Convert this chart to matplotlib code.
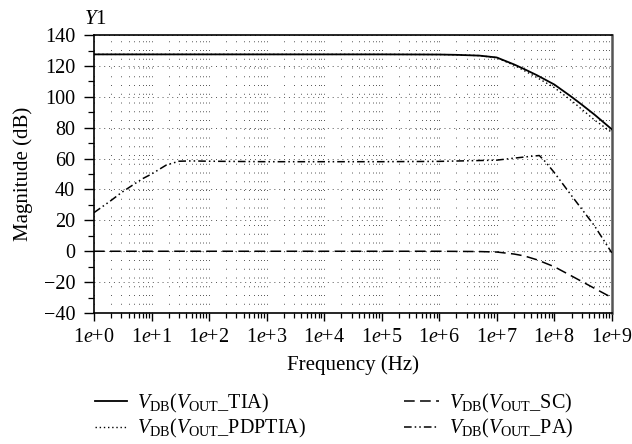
import matplotlib
matplotlib.use("Agg")
import matplotlib.pyplot as plt
from matplotlib.ticker import LogLocator, MultipleLocator, FixedLocator, FixedFormatter, NullFormatter

plt.rcParams['font.family'] = ['Liberation Serif', 'DejaVu Serif']
plt.rcParams['mathtext.fontset'] = 'custom'
plt.rcParams['mathtext.rm'] = 'Liberation Serif'
plt.rcParams['mathtext.it'] = 'Liberation Serif:italic'
plt.rcParams['mathtext.bf'] = 'Liberation Serif:bold'

# ---- data ----
f_tia = [1, 1e1, 1e2, 1e3, 1e4, 1e5, 1e6, 2e6, 5e6, 1e7, 2e7, 3e7, 5e7, 1e8, 2e8, 3e8, 5e8, 1e9]
v_tia = [127.5, 127.5, 127.5, 127.5, 127.5, 127.5, 127.4, 127.2, 126.7, 125.5, 121.0, 118.0, 114.0, 108.0, 100.0, 95.0, 88.5, 79.0]

f_pdp = [1, 1e1, 1e2, 1e3, 1e4, 1e5, 1e6, 2e6, 5e6, 1e7, 2e7, 3e7, 5e7, 1e8, 2e8, 3e8, 5e8, 1e9]
v_pdp = [127.5, 127.5, 127.5, 127.5, 127.5, 127.5, 127.4, 127.2, 126.7, 125.3, 120.5, 117.0, 112.5, 106.0, 97.5, 92.0, 85.0, 77.0]

f_sc = [1, 1e1, 1e2, 1e3, 1e4, 1e5, 1e6, 5e6, 1e7, 2e7, 3e7, 5e7, 1e8, 2e8, 5e8, 1e9]
v_sc = [0.0, 0.0, 0.0, 0.0, 0.0, 0.0, 0.0, -0.2, -0.5, -1.8, -3.0, -5.5, -10.0, -16.0, -24.0, -30.0]

f_pa = [1, 2, 3, 5, 7, 10, 18, 30, 50, 100, 1e3, 1e4, 1e5, 1e6, 1e7, 2e7, 4e7, 5.5e7, 7e7, 1e8, 2e8, 5e8, 1e9]
v_pa = [25.0, 33.0, 38.0, 43.5, 47.0, 50.0, 55.8, 58.3, 58.5, 58.3, 58.0, 58.0, 58.0, 58.2, 59.0, 60.3, 61.5, 62.0, 58.0, 51.0, 36.0, 16.5, -1.0]

labels = [r'$V_{\mathrm{DB}}(V_{\mathrm{OUT}}\_\mathrm{TIA})$',
          r'$V_{\mathrm{DB}}(V_{\mathrm{OUT}}\_\mathrm{PDPTIA})$',
          r'$V_{\mathrm{DB}}(V_{\mathrm{OUT}}\_\mathrm{SC})$',
          r'$V_{\mathrm{DB}}(V_{\mathrm{OUT}}\_\mathrm{PA})$']

xtick_vals = [1e0, 1e1, 1e2, 1e3, 1e4, 1e5, 1e6, 1e7, 1e8, 1e9]
xtick_labels = [r'1$e$+%d' % i for i in range(10)]
yticks = [-40, -20, 0, 20, 40, 60, 80, 100, 120, 140]

FS = 15
TFS = 14.5
LFS = 14.5

fig = plt.figure(figsize=(6.32, 4.44), dpi=100)
ax = fig.add_axes([0.1487, 0.295, 0.8193, 0.626])

l1, = ax.plot(f_tia, v_tia, color='black', lw=1.3, ls='-', zorder=4)
l2, = ax.plot(f_pdp, v_pdp, color='black', lw=1.0, ls=(0, (1, 2)), zorder=4)
l3, = ax.plot(f_sc, v_sc, color='black', lw=1.1, ls=(0, (7, 3.5)), zorder=4)
l4, = ax.plot(f_pa, v_pa, color='black', lw=1.1, ls=(0, (5, 2, 1, 2, 1, 2)), zorder=4)

ax.set_xscale('log')
ax.set_xlim(1, 1e9)
ax.set_ylim(-40, 140)
ax.xaxis.set_major_locator(FixedLocator(xtick_vals))
ax.xaxis.set_major_formatter(FixedFormatter(xtick_labels))
ax.xaxis.set_minor_locator(LogLocator(base=10, subs=range(2, 10), numticks=100))
ax.xaxis.set_minor_formatter(NullFormatter())
ax.set_yticks(yticks)
ax.yaxis.set_minor_locator(MultipleLocator(10))

# grid: sparse dotted verticals at every log tick, dotted horizontals at major y
ax.xaxis.grid(True, which='both', color='#555555', ls=(0, (1, 8)), lw=0.7)
ax.yaxis.grid(True, which='major', color='#555555', ls=(0, (1, 4)), lw=0.7)

ax.tick_params(axis='y', which='major', direction='out', length=7.5, width=1, labelsize=TFS, pad=6)
ax.tick_params(axis='y', which='minor', direction='out', length=4, width=0.9)
ax.tick_params(axis='x', which='major', direction='out', length=6, width=1, labelsize=TFS, pad=5)
ax.tick_params(axis='x', which='minor', direction='out', length=3.5, width=0.9)
for s in ax.spines.values():
    s.set_linewidth(1.2)
ax.spines['right'].set_color('#555555')
ax.spines['right'].set_linewidth(1.8)

ax.set_xlabel('Frequency (Hz)', fontsize=FS, labelpad=6)
ax.set_ylabel('Magnitude (dB)', fontsize=FS, labelpad=8)
fig.text(95 / 632, 1 - 19 / 444, r'$Y$1', fontsize=FS, ha='center', va='center')

leg_top = 1 - 392 / 444
leg1 = fig.legend([l1, l2], labels[:2], loc='upper left', bbox_to_anchor=(95 / 632, leg_top),
                  frameon=False, fontsize=LFS, handlelength=1.6, handletextpad=0.5,
                  labelspacing=0.12, borderaxespad=0, borderpad=0)
leg2 = fig.legend([l3, l4], labels[2:], loc='upper left', bbox_to_anchor=(404 / 632, leg_top),
                  frameon=False, fontsize=LFS, handlelength=1.75, handletextpad=0.5,
                  labelspacing=0.12, borderaxespad=0, borderpad=0)

fig.savefig('out.png', dpi=100)
